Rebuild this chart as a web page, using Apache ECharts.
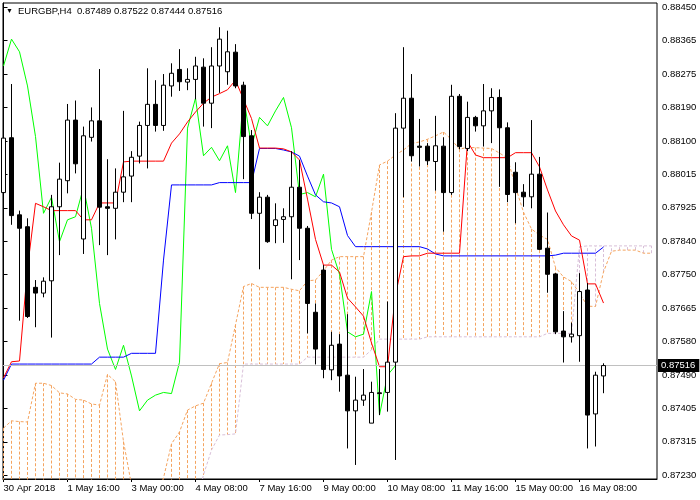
<!DOCTYPE html>
<html>
<head>
<meta charset="utf-8">
<script src="https://cdn.jsdelivr.net/npm/echarts@6.0.0/dist/echarts.min.js"></script>
<style>html,body{margin:0;padding:0;background:#fff}#c{width:700px;height:500px}</style>
</head>
<body>
<div id="c"></div>
<script>
// ---------------- data ----------------
const symbol = 'EURGBP,H4';
const timeLabels = ['30 Apr 2018','1 May 16:00','3 May 00:00','4 May 08:00','7 May 16:00','9 May 00:00','10 May 08:00','11 May 16:00','15 May 00:00','16 May 08:00'];
const labelEvery = 8; // one time label every 8 bars
const priceLabels = ['0.87230','0.87315','0.87405','0.87490','0.87580','0.87665','0.87750','0.87840','0.87925','0.88015','0.88100','0.88190','0.88275','0.88365','0.88450'];

const open = [0.87967,0.88110,0.87909,0.87878,0.87720,0.87705,0.87737,0.87930,0.87998,0.88156,
0.87846,0.88111,0.88154,0.87930,0.87926,0.87968,0.88010,0.88062,0.88142,0.88197,
0.88142,0.88245,0.88288,0.88255,0.88262,0.88294,0.88200,0.88297,0.88282,0.88333,
0.88247,0.88115,0.87913,0.87955,0.87881,0.87897,0.87904,0.87981,0.87874,0.87655,
0.87765,0.87505,0.87572,0.87491,0.87398,0.87426,0.87366,0.87445,0.87446,0.87525,
0.88135,0.88213,0.88088,0.88088,0.88048,0.88088,0.87967,0.88218,0.88082,0.88163,
0.88141,0.88180,0.88215,0.88136,0.88020,0.87968,0.87956,0.88015,0.87822,0.87755,
0.87606,0.87591,0.87594,0.87713,0.87390,0.87489];
const high = [0.88165,0.88250,0.87920,0.87900,0.87739,0.87746,0.87961,0.88045,0.88198,0.88207,
0.88139,0.88189,0.88289,0.88054,0.88030,0.88180,0.88075,0.88152,0.88291,0.88260,
0.88276,0.88304,0.88341,0.88291,0.88321,0.88317,0.88346,0.88398,0.88389,0.88354,
0.88256,0.88130,0.87968,0.87961,0.87939,0.87926,0.88075,0.88052,0.87880,0.87678,
0.87778,0.87604,0.87598,0.87650,0.87487,0.87507,0.87474,0.87507,0.87683,0.88174,
0.88346,0.88276,0.88159,0.88096,0.88167,0.88111,0.88248,0.88224,0.88204,0.88167,
0.88250,0.88239,0.88236,0.88150,0.88046,0.87989,0.88156,0.88060,0.87915,0.87757,
0.87658,0.87628,0.87757,0.87731,0.87500,0.87522];
const low = [0.87956,0.87883,0.87633,0.87640,0.87616,0.87694,0.87589,0.87804,0.87965,0.88017,
0.87807,0.88100,0.87830,0.87804,0.87845,0.87942,0.87942,0.88043,0.88030,0.88126,
0.88128,0.88217,0.88232,0.88234,0.88210,0.88139,0.88135,0.88227,0.88248,0.88239,
0.88002,0.87898,0.87767,0.87836,0.87835,0.87836,0.87741,0.87791,0.87600,0.87519,
0.87483,0.87478,0.87448,0.87300,0.87257,0.87411,0.87366,0.87387,0.87396,0.87270,
0.87955,0.88048,0.88035,0.88039,0.87972,0.87865,0.87961,0.88080,0.88075,0.88126,
0.88087,0.88096,0.87982,0.87942,0.87887,0.87930,0.87926,0.87817,0.87706,0.87598,
0.87524,0.87576,0.87526,0.87300,0.87305,0.87444];
const close = [0.88109,0.87907,0.87874,0.87644,0.87705,0.87736,0.87930,0.88002,0.88156,0.88042,
0.88115,0.88154,0.87929,0.87926,0.87968,0.88008,0.88059,0.88142,0.88197,0.88142,
0.88247,0.88278,0.88256,0.88262,0.88297,0.88200,0.88297,0.88367,0.88334,0.88245,
0.88113,0.87913,0.87955,0.87839,0.87896,0.87904,0.87981,0.87874,0.87678,0.87559,
0.87506,0.87569,0.87489,0.87398,0.87426,0.87439,0.87446,0.87443,0.87525,0.88135,
0.88213,0.88063,0.88085,0.88050,0.88089,0.87967,0.88218,0.88087,0.88163,0.88141,
0.88180,0.88215,0.88136,0.87962,0.87967,0.87956,0.88015,0.87819,0.87754,0.87604,
0.87591,0.87598,0.87709,0.87387,0.87491,0.87516];

const tenkan = [0.87484,0.87526,0.87528,0.87770,0.87939,0.87930,0.87920,0.87920,0.87920,0.87920,
0.87896,0.87896,0.87940,0.87940,0.87940,0.88047,0.88049,0.88049,0.88049,0.88049,
0.88049,0.88096,0.88120,0.88151,0.88177,0.88200,0.88216,0.88225,0.88235,0.88260,
0.88210,0.88160,0.88083,0.88083,0.88083,0.88081,0.88073,0.88052,0.87950,0.87845,
0.87778,0.87778,0.87760,0.87692,0.87669,0.87645,0.87575,0.87513,0.87513,0.87700,
0.87800,0.87802,0.87802,0.87809,0.87809,0.87809,0.87809,0.87809,0.88100,0.88065,
0.88058,0.88058,0.88058,0.88058,0.88071,0.88071,0.88071,0.88034,0.87974,0.87919,
0.87883,0.87854,0.87843,0.87729,0.87729,0.87679];
const kijun = [0.87478,0.87520,0.87520,0.87520,0.87520,0.87520,0.87520,0.87520,0.87520,0.87520,
0.87520,0.87520,0.87538,0.87538,0.87538,0.87538,0.87548,0.87548,0.87548,0.87548,
0.87791,0.87987,0.87987,0.87987,0.87987,0.87987,0.87987,0.87993,0.87993,0.87993,
0.87993,0.87993,0.88082,0.88082,0.88082,0.88078,0.88073,0.88062,0.88010,0.87961,
0.87943,0.87940,0.87930,0.87855,0.87826,0.87826,0.87826,0.87826,0.87826,0.87826,
0.87826,0.87826,0.87826,0.87820,0.87807,0.87802,0.87802,0.87802,0.87802,0.87802,
0.87802,0.87802,0.87802,0.87802,0.87802,0.87802,0.87802,0.87802,0.87802,0.87804,
0.87809,0.87809,0.87809,0.87809,0.87809,0.87825];
const spanA = [0.87353,0.87372,0.87370,0.87369,0.87470,0.87470,0.87464,0.87445,0.87442,0.87428,
0.87426,0.87416,0.87413,0.87493,0.87474,0.87318,0.87205,0.87179,0.87179,0.87192,
0.87223,0.87312,0.87343,0.87400,0.87411,0.87418,0.87470,0.87521,0.87524,0.87622,
0.87722,0.87730,0.87720,0.87720,0.87720,0.87720,0.87715,0.87711,0.87737,0.87739,
0.87763,0.87791,0.87800,0.87800,0.87800,0.87800,0.87916,0.88039,0.88049,0.88065,
0.88078,0.88095,0.88099,0.88106,0.88115,0.88125,0.88105,0.88080,0.88085,0.88084,
0.88083,0.88082,0.88070,0.88057,0.87982,0.87916,0.87872,0.87856,0.87845,0.87772,
0.87747,0.87735,0.87705,0.87671,0.87670,0.87760,0.87814,0.87817,0.87817,0.87817,
0.87809,0.87809];
const spanB = [0.87150,0.87150,0.87150,0.87150,0.87150,0.87150,0.87150,0.87150,0.87150,0.87150,
0.87150,0.87150,0.87150,0.87150,0.87150,0.87150,0.87150,0.87150,0.87150,0.87150,
0.87150,0.87150,0.87150,0.87150,0.87150,0.87231,0.87296,0.87335,0.87336,0.87338,
0.87520,0.87520,0.87520,0.87520,0.87520,0.87520,0.87520,0.87520,0.87538,0.87538,
0.87538,0.87538,0.87538,0.87538,0.87538,0.87538,0.87557,0.87585,0.87585,0.87585,
0.87585,0.87585,0.87585,0.87591,0.87591,0.87591,0.87591,0.87591,0.87591,0.87591,
0.87591,0.87591,0.87591,0.87591,0.87591,0.87591,0.87591,0.87591,0.87600,0.87600,
0.87600,0.87600,0.87826,0.87828,0.87828,0.87828,0.87828,0.87828,0.87828,0.87828,
0.87828,0.87828];
const chikouShift = 26;

// ---------------- chart ----------------
const FONT = "'Liberation Sans', Arial, sans-serif";
const SANDY = '#f4a460', THISTLE = '#d8bfd8';
const L = close.length - 1;
const bars = close.map((c, i) => [i, open[i], c, low[i], high[i]]);
const asLine = arr => arr.map((v, i) => [i, v]);
const chikou = close.slice(chikouShift).map((v, j) => [j, v]);
const cloudSegments = spanA.map((a, i) => ({
  coords: [[i, a], [i, spanB[i]]],
  lineStyle: { color: a > spanB[i] ? SANDY : THISTLE }
}));

const yLo = +priceLabels[0], yHi = +priceLabels[priceLabels.length - 1];
const yStep = (yHi - yLo) / (priceLabels.length - 1);
const tickVals = priceLabels.map((s, k) => yLo + k * yStep);
// plot is 476px tall, tick span 468px, 4.3px above top tick, 3.7px below bottom tick
const yMax = yHi + (yHi - yLo) * 4.3 / 468;
const yMin = yLo - (yHi - yLo) * 3.7 / 468;
const xTicks = timeLabels.map((s, k) => k * labelEvery);
const nearestLabel = v => {
  let best = 0, d = Infinity;
  tickVals.forEach((t, k) => { const e = Math.abs(t - v); if (e < d) { d = e; best = k; } });
  return priceLabels[best];
};

const lineSeries = (data, color, z, dashed) => ({
  type: 'line', data, showSymbol: false, symbol: 'none', silent: true, clip: true, z,
  lineStyle: { color, width: 1, type: dashed ? [3, 2] : 'solid' }, emphasis: { disabled: true }
});

const priceLine = {
  silent: true, symbol: ['none', 'none'], animation: false, precision: 5,
  lineStyle: { color: '#c0c0c0', type: 'solid', width: 1 },
  label: {
    show: true, position: 'end', distance: 1,
    formatter: () => close[L].toFixed(5),
    backgroundColor: '#000', color: '#fff', padding: [2, 4, 1, 3], fontSize: 9.5, fontFamily: FONT
  },
  data: [{ yAxis: close[L] }]
};

const chart = echarts.init(document.getElementById('c'), null, { renderer: 'canvas' });
chart.setOption({
  animation: false,
  backgroundColor: '#fff',
  textStyle: { fontFamily: FONT },
  title: [
    { left: 6, top: 8, padding: 0, text: '▼',
      textStyle: { fontSize: 7, fontWeight: 'normal', color: '#000', fontFamily: FONT } },
    { left: 18, top: 6, padding: 0,
      text: symbol + '  ' + [open[L], high[L], low[L], close[L]].map(v => v.toFixed(5)).join(' '),
      textStyle: { fontSize: 9.5, fontWeight: 'normal', color: '#000', fontFamily: FONT } }
  ],
  grid: { left: 3, right: 43, top: 3, bottom: 21, show: true, borderColor: '#000', borderWidth: 1, backgroundColor: '#fff' },
  xAxis: {
    type: 'value', min: -0.0625, max: 81.6875,
    splitLine: { show: false },
    axisLine: { show: true, onZero: false, lineStyle: { color: '#000', width: 1 } },
    axisTick: { show: true, customValues: xTicks, length: 3, lineStyle: { color: '#000' } },
    axisLabel: {
      show: true, customValues: xTicks, align: 'left', margin: 4, color: '#000',
      fontSize: 9.5, fontFamily: FONT,
      formatter: v => timeLabels[Math.round(v / labelEvery)] || ''
    }
  },
  yAxis: {
    type: 'value', position: 'right', min: yMin, max: yMax,
    splitLine: { show: false },
    axisLine: { show: true, lineStyle: { color: '#000', width: 1 } },
    axisTick: { show: true, customValues: tickVals, length: 4, lineStyle: { color: '#000' } },
    axisLabel: {
      show: true, customValues: tickVals, margin: 5, color: '#000', fontSize: 9.5, fontFamily: FONT,
      formatter: v => nearestLabel(v)
    }
  },
  series: [
    {
      type: 'lines', coordinateSystem: 'cartesian2d', data: cloudSegments, z: 1,
      silent: true, clip: true, symbol: ['none', 'none'], animation: false,
      lineStyle: { width: 1, type: [3, 2], opacity: 1, color: SANDY }
    },
    lineSeries(asLine(spanA), SANDY, 2, true),
    lineSeries(asLine(spanB), THISTLE, 2, true),
    Object.assign(lineSeries(asLine(close), '#c0c0c0', 0, false), { lineStyle: { opacity: 0 }, markLine: priceLine }),
    lineSeries(chikou, '#00ff00', 3, false),
    lineSeries(asLine(kijun), '#0000ff', 3, false),
    lineSeries(asLine(tenkan), '#ff0000', 3, false),
    {
      type: 'candlestick', data: bars, z: 5, barWidth: 4, silent: true, clip: true,
      encode: { x: 0, y: [1, 2, 3, 4] },
      itemStyle: { color: '#ffffff', color0: '#000000', borderColor: '#000000', borderColor0: '#000000', borderWidth: 1 }
    }
  ]
});
</script>
</body>
</html>
